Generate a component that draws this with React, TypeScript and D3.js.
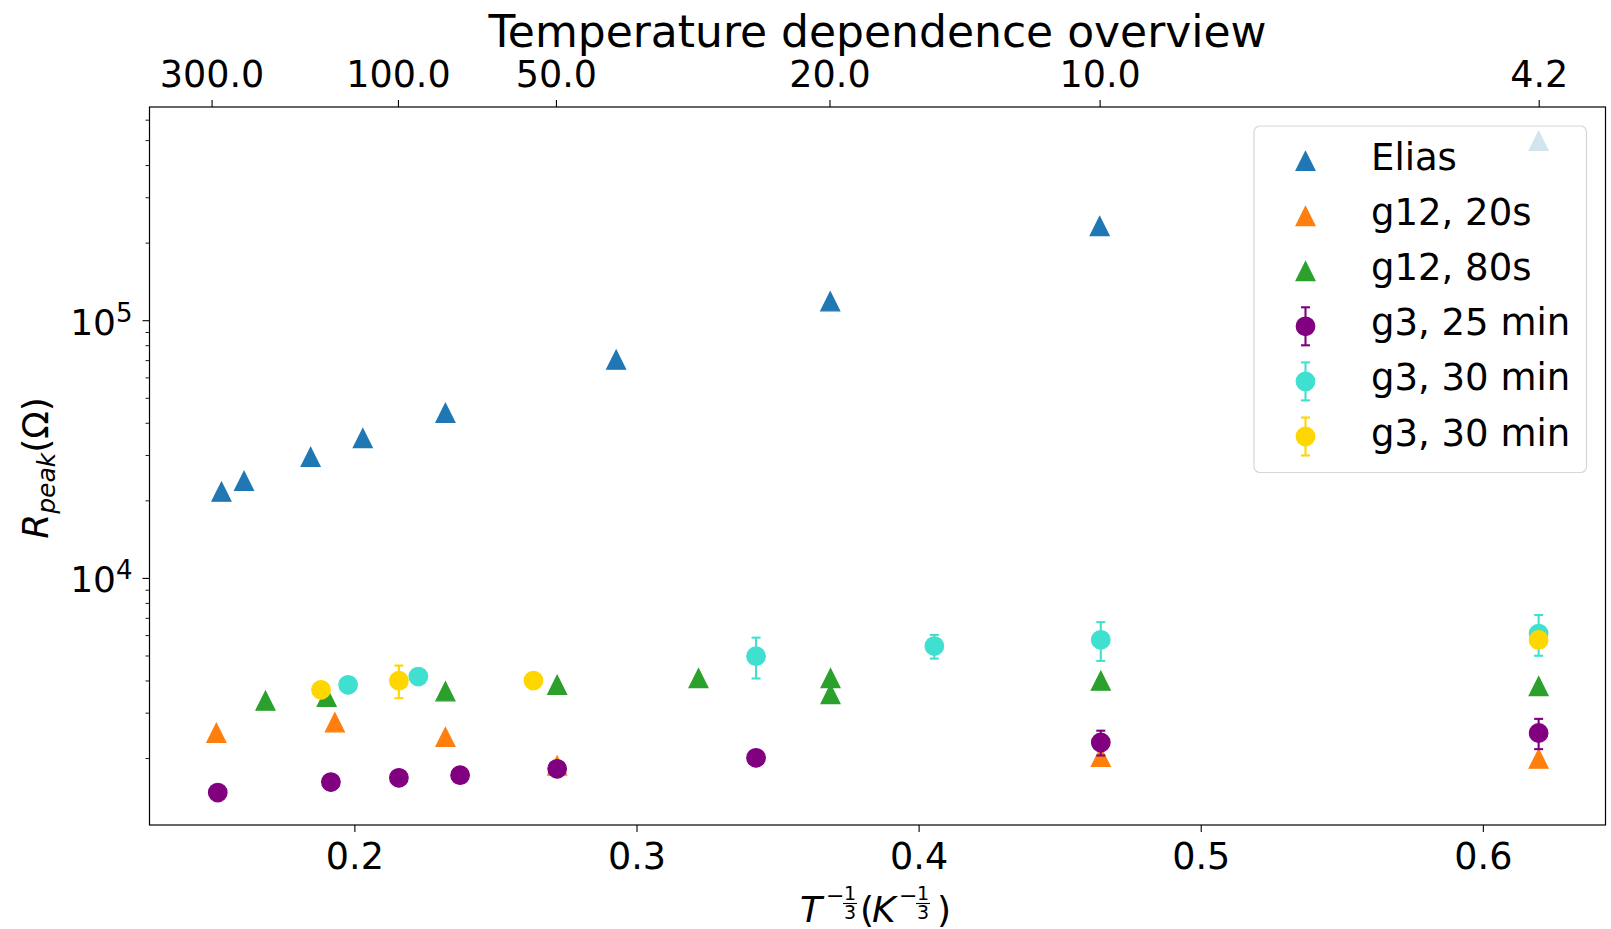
import React from 'react';
import * as d3 from 'd3';

// ---------- data ----------
const xTickValues = [0.2, 0.3, 0.4, 0.5, 0.6];
const topTempTicks = [300, 100, 50, 20, 10, 4.2];
const topTempLabels = ['300.0', '100.0', '50.0', '20.0', '10.0', '4.2'];
const yMajorTicks = [10000, 100000];
const yMajorExponents = ['4', '5'];

const eliasX = [0.1527, 0.1607, 0.1843, 0.2028, 0.2321, 0.2926, 0.3685, 0.464, 0.6196];
const eliasY = [21700, 23900, 29600, 35000, 43900, 70600, 118900, 233000, 499000];

const g12s20X = [0.1509, 0.1929, 0.2321, 0.2717, 0.4644, 0.6196];
const g12s20Y = [2516, 2763, 2424, 1878, 2030, 1998];

const g12s80X = [0.1683, 0.19, 0.2321, 0.2717, 0.3218, 0.3686, 0.3686, 0.4644, 0.6196];
const g12s80Y = [3354, 3470, 3645, 3863, 4102, 4102, 3558, 4011, 3818];

const g3m25X = [0.1514, 0.1915, 0.2156, 0.2373, 0.2717, 0.3422, 0.4644, 0.6196];
const g3m25Y = [1476, 1620, 1683, 1724, 1824, 2012, 2310, 2513];
const g3m25Err = [40, 40, 40, 40, 50, 60, 255, 338];

const g3m30aX = [0.1976, 0.2225, 0.3422, 0.4054, 0.4644, 0.6196];
const g3m30aY = [3863, 4160, 4990, 5461, 5775, 6110];
const g3m30aErr = [80, 80, 900, 576, 990, 1100];

const g3m30bX = [0.188, 0.2156, 0.2633, 0.6196];
const g3m30bY = [3694, 4010, 4014, 5774];
const g3m30bErr = [80, 580, 80, 400];

const legendLabels = ['Elias', 'g12, 20s', 'g12, 80s', 'g3, 25 min', 'g3, 30 min', 'g3, 30 min'];

// ---------- layout ----------
const W = 1611;
const H = 929;
const L = 149.5;
const R = 1605.5;
const T = 107;
const B = 825;
const FONT = 'DejaVu Sans, sans-serif';

const x = d3.scaleLinear().domain([0.1272, 0.6433]).range([L, R]);
const y = d3.scaleLog().domain([1104.4, 675000]).range([B, T]);

type Series = {
  xs: number[];
  ys: number[];
  err?: number[];
  color: string;
  marker: 'tri' | 'circle';
};

const series: Series[] = [
  { xs: eliasX, ys: eliasY, color: '#1f77b4', marker: 'tri' },
  { xs: g12s20X, ys: g12s20Y, color: '#ff7f0e', marker: 'tri' },
  { xs: g12s80X, ys: g12s80Y, color: '#2ca02c', marker: 'tri' },
  { xs: g3m25X, ys: g3m25Y, err: g3m25Err, color: '#800080', marker: 'circle' },
  { xs: g3m30aX, ys: g3m30aY, err: g3m30aErr, color: '#40e0d0', marker: 'circle' },
  { xs: g3m30bX, ys: g3m30bY, err: g3m30bErr, color: '#ffd700', marker: 'circle' },
];

const MS = 19;
const triPath = (cx: number, cy: number) =>
  `M${cx},${cy - MS / 2} L${cx - MS / 2},${cy + MS / 2} L${cx + MS / 2},${cy + MS / 2} Z`;

function Marker({ cx, cy, s }: { cx: number; cy: number; s: Series }) {
  if (s.marker === 'tri') {
    return <path d={triPath(cx, cy)} fill={s.color} stroke={s.color} strokeWidth={1.2} strokeLinejoin="miter" />;
  }
  return <circle cx={cx} cy={cy} r={9.3} fill={s.color} stroke={s.color} strokeWidth={1.2} />;
}

function ErrorBar({ cx, y1, y2, color }: { cx: number; y1: number; y2: number; color: string }) {
  const cap = 4.5;
  return (
    <g stroke={color} strokeWidth={2.1}>
      <line x1={cx} x2={cx} y1={y1} y2={y2} />
      <line x1={cx - cap} x2={cx + cap} y1={y1} y2={y1} />
      <line x1={cx - cap} x2={cx + cap} y1={y2} y2={y2} />
    </g>
  );
}

export default function App() {
  const minorTicks: number[] = [];
  for (let e = 3; e <= 5; e++) {
    for (let m = 2; m <= 9; m++) {
      const v = m * Math.pow(10, e);
      const [d0, d1] = y.domain();
      if (v >= d0 && v <= d1) minorTicks.push(v);
    }
  }

  const legendX0 = 1254;
  const legendY0 = 126;
  const legendW = 332.5;
  const legendH = 346.5;
  const rowY = (i: number) => 161 + i * 55.1;

  return (
    <svg
      width={W}
      height={H}
      style={{ position: 'absolute', left: 0, top: 0, background: '#fff' }}
      fontFamily={FONT}
    >
      <rect x={0} y={0} width={W} height={H} fill="#fff" />

      {/* title */}
      <text x={(L + R) / 2} y={46.5} textAnchor="middle" fontSize={44} fill="#000">
        Temperature dependence overview
      </text>

      {/* data */}
      {series.map((s, si) => (
        <g key={si}>
          {s.xs.map((xv, i) => {
            const cx = x(xv);
            const cy = y(s.ys[i]);
            return (
              <g key={i}>
                {s.err && (
                  <ErrorBar cx={cx} y1={y(s.ys[i] + s.err[i])} y2={y(s.ys[i] - s.err[i])} color={s.color} />
                )}
                <Marker cx={cx} cy={cy} s={s} />
              </g>
            );
          })}
        </g>
      ))}

      {/* frame */}
      <rect x={L} y={T} width={R - L} height={B - T} fill="none" stroke="#000" strokeWidth={1.2} />

      {/* bottom axis */}
      {xTickValues.map((v) => (
        <g key={v}>
          <line x1={x(v)} x2={x(v)} y1={B} y2={B + 7} stroke="#000" strokeWidth={1.1} />
          <text x={x(v)} y={869} textAnchor="middle" fontSize={36.5} fill="#000">
            {v.toFixed(1)}
          </text>
        </g>
      ))}

      {/* top axis */}
      {topTempTicks.map((t, i) => {
        const px = x(Math.pow(t, -1 / 3));
        return (
          <g key={t}>
            <line x1={px} x2={px} y1={T} y2={T - 7} stroke="#000" strokeWidth={1.1} />
            <text x={px} y={87} textAnchor="middle" fontSize={36.5} fill="#000">
              {topTempLabels[i]}
            </text>
          </g>
        );
      })}

      {/* left axis */}
      {minorTicks.map((v) => (
        <line key={v} x1={L} x2={L - 4} y1={y(v)} y2={y(v)} stroke="#000" strokeWidth={0.9} />
      ))}
      {yMajorTicks.map((v, i) => (
        <g key={v}>
          <line x1={L} x2={L - 7} y1={y(v)} y2={y(v)} stroke="#000" strokeWidth={1.1} />
          <text x={116} y={y(v) + 14} textAnchor="end" fontSize={36} fill="#000">
            10
          </text>
          <text x={116} y={y(v) + 1} textAnchor="start" fontSize={26} fill="#000">
            {yMajorExponents[i]}
          </text>
        </g>
      ))}

      {/* y label */}
      <text transform="translate(48,468) rotate(-90)" textAnchor="middle" fontSize={36} fill="#000">
        <tspan fontStyle="italic">R</tspan>
        <tspan fontStyle="italic" fontSize={25} dy={7}>
          peak
        </tspan>
        <tspan dy={-7}>(Ω)</tspan>
      </text>

      {/* x label */}
      <g fill="#000" fontSize={36}>
        <text x={800} y={922} fontStyle="italic">T</text>
        <text x={826} y={903} fontSize={22}>−</text>
        <text x={850} y={900} fontSize={19} textAnchor="middle">1</text>
        <line x1={843} x2={857} y1={903.5} y2={903.5} stroke="#000" strokeWidth={1.1} />
        <text x={850} y={919} fontSize={19} textAnchor="middle">3</text>
        <text x={860} y={922}>(</text>
        <text x={872} y={922} fontStyle="italic">K</text>
        <text x={899} y={903} fontSize={22}>−</text>
        <text x={923} y={900} fontSize={19} textAnchor="middle">1</text>
        <line x1={916} x2={930} y1={903.5} y2={903.5} stroke="#000" strokeWidth={1.1} />
        <text x={923} y={919} fontSize={19} textAnchor="middle">3</text>
        <text x={937} y={922}>)</text>
      </g>

      {/* legend */}
      <rect
        x={legendX0}
        y={legendY0}
        width={legendW}
        height={legendH}
        rx={6}
        fill="#fff"
        fillOpacity={0.8}
        stroke="#cccccc"
        strokeOpacity={0.8}
        strokeWidth={1.2}
      />
      {series.map((s, i) => {
        const cy = rowY(i);
        const cx = 1305.5;
        return (
          <g key={i}>
            {s.err && <ErrorBar cx={cx} y1={cy - 19} y2={cy + 19} color={s.color} />}
            <Marker cx={cx} cy={cy} s={s} />
            <text x={1371} y={cy + 9} fontSize={37} fill="#000">
              {legendLabels[i]}
            </text>
          </g>
        );
      })}
    </svg>
  );
}
